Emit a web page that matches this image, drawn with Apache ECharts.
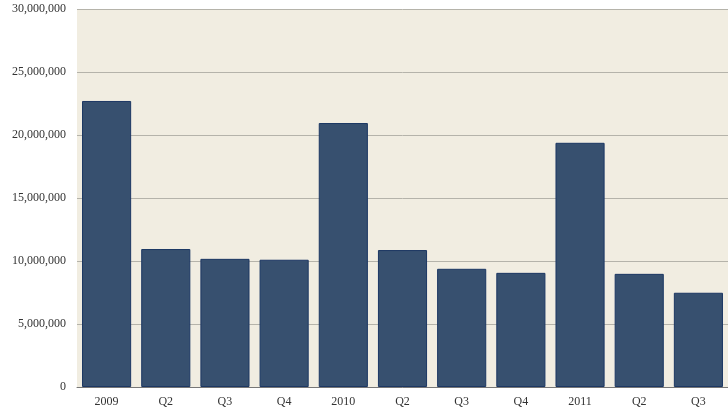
<!DOCTYPE html>
<html><head><meta charset="utf-8">
<script src="https://cdn.jsdelivr.net/npm/echarts@6/dist/echarts.min.js"></script>
<style>html,body{margin:0;padding:0;background:#fff}#c{width:728px;height:416px}</style>
</head><body><div id="c"></div>
<script>
const categories = ['2009','Q2','Q3','Q4','2010','Q2','Q3','Q4','2011','Q2','Q3'];
const values = [22700000,10950000,10170000,10100000,20950000,10870000,9380000,9060000,19380000,8980000,7480000];
const chart = echarts.init(document.getElementById('c'));
chart.setOption({
  animation:false,
  grid:{left:77,right:0,top:9,bottom:29,show:true,backgroundColor:'#f1ede1',borderWidth:0},
  xAxis:{type:'category',data:categories,
    axisLine:{lineStyle:{color:'#777',width:1}},axisTick:{show:false},
    axisLabel:{color:'#333',fontFamily:'Liberation Serif',fontSize:12,margin:9}},
  yAxis:{type:'value',min:0,max:30000000,interval:5000000,
    axisLine:{show:false},axisTick:{show:false},
    splitLine:{lineStyle:{color:'#b5b3aa',width:1}},
    axisLabel:{color:'#333',fontFamily:'Liberation Serif',fontSize:12,margin:11,padding:[4,0,0,0],
      formatter:v=>v.toLocaleString('en-US')}},
  series:[{type:'bar',data:values,barCategoryGap:'17%',
    itemStyle:{color:'#37506f',borderColor:'#1c3763',borderWidth:1}}]
});
</script></body></html>
